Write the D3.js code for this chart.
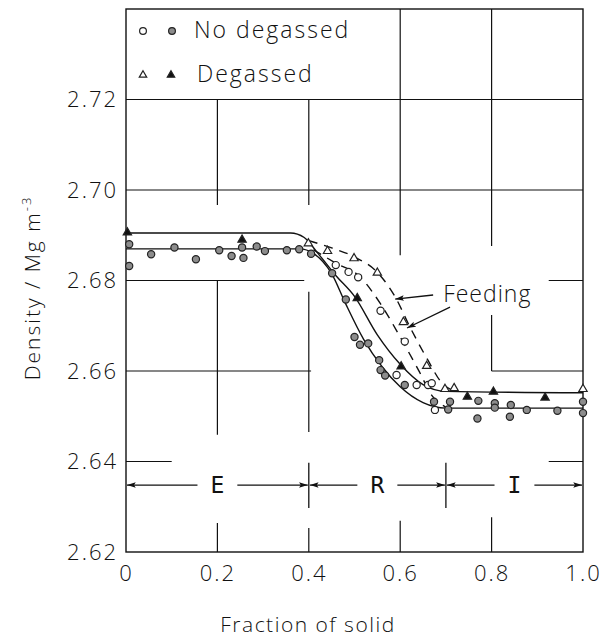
<!DOCTYPE html>
<html><head><meta charset="utf-8">
<script src="https://cdn.jsdelivr.net/npm/d3@7"></script>
<style>
body{margin:0;background:#fff;}
svg text{font-family:"Open Sans","DejaVu Sans",sans-serif;font-weight:300;fill:#111;}
</style></head><body>
<svg id="c" width="614" height="644"></svg>
<script>
// ---------------- data ----------------
const xTicks=[0,0.2,0.4,0.6,0.8,1.0];
const xTickLabels=["0","0.2","0.4","0.6","0.8","1.0"];
const yTicks=[2.62,2.64,2.66,2.68,2.70,2.72];
const yTickLabels=["2.62","2.64","2.66","2.68","2.70","2.72"];

// No degassed, filled circles
const ndFilledX=[0.007,0.007,0.055,0.106,0.153,0.204,0.231,0.254,0.257,0.286,0.304,0.352,0.379,0.405,0.451,0.481,0.500,0.512,0.530,0.554,0.557,0.567,0.610,0.674,0.705,0.709,0.771,0.769,0.807,0.807,0.842,0.840,0.877,0.944,1.0,1.0];
const ndFilledY=[2.6880,2.6832,2.6858,2.6873,2.6847,2.6867,2.6854,2.6873,2.6850,2.6875,2.6865,2.6867,2.6869,2.6859,2.6816,2.6758,2.6675,2.6658,2.6661,2.6624,2.6602,2.6590,2.6569,2.6532,2.6515,2.6532,2.6534,2.6495,2.6529,2.6519,2.6525,2.6499,2.6514,2.6512,2.6532,2.6507];
// No degassed, open circles (feeding)
const ndOpenX=[0.459,0.487,0.508,0.557,0.610,0.592,0.636,0.661,0.669,0.676];
const ndOpenY=[2.6834,2.6819,2.6807,2.6733,2.6665,2.6591,2.6569,2.6569,2.6573,2.6514];
// Degassed, filled triangles
const dgFilledX=[0.003,0.254,0.506,0.602,0.747,0.804,0.917];
const dgFilledY=[2.6906,2.6890,2.6761,2.6610,2.6543,2.6554,2.6541];
// Degassed, open triangles (feeding)
const dgOpenX=[0.399,0.441,0.499,0.550,0.607,0.658,0.698,0.718,1.0];
const dgOpenY=[2.6882,2.6865,2.6849,2.6817,2.6708,2.6611,2.6560,2.6562,2.6560];

// fitted curves
const curveNdX=[0,0.38,0.41,0.45,0.48,0.52,0.56,0.60,0.65,0.70,1.0];
const curveNdY=[2.6870,2.6870,2.6860,2.6815,2.6750,2.6670,2.6610,2.6565,2.6530,2.6518,2.6518];
const curveDgX=[0,0.36,0.39,0.42,0.46,0.50,0.55,0.60,0.65,0.70,1.0];
const curveDgY=[2.6905,2.6905,2.6895,2.6860,2.6810,2.6765,2.6680,2.6615,2.6570,2.6555,2.6552];
const feedNdX=[0.41,0.46,0.51,0.556,0.60,0.64,0.67,0.70];
const feedNdY=[2.6868,2.6838,2.6810,2.6750,2.6675,2.6602,2.6545,2.6520];
const feedDgX=[0.40,0.45,0.50,0.55,0.59,0.62,0.66,0.69,0.72];
const feedDgY=[2.6888,2.6872,2.6852,2.6818,2.6762,2.6700,2.6625,2.6575,2.6555];

// stages
const stageBounds=[0,0.4,0.7,1.0];
const stageLabels=["E","R","I"];
const stageLevel=2.6348;

// ---------------- chart ----------------
const svg=d3.select("#c");
const x=d3.scaleLinear().domain([0,1]).range([126,583]);
const y=d3.scaleLinear().domain([2.62,2.74]).range([552,9]);

const defs=svg.append("defs");
defs.append("marker").attr("id","ah").attr("viewBox","0 -4 10 8")
  .attr("refX",10).attr("refY",0).attr("markerWidth",9).attr("markerHeight",7)
  .attr("markerUnits","userSpaceOnUse").attr("orient","auto-start-reverse")
  .append("path").attr("d","M0,-3.2L10,0L0,3.2L2,0Z").attr("fill","#111");

// partial grid (gaps around data & annotations)
const vGrid=[
 {v:0.2,spans:[[2.62,2.6264],[2.6459,2.68],[2.6967,2.72]]},
 {v:0.4,spans:[[2.62,2.6253],[2.6465,2.6775],[2.6967,2.72]]},
 {v:0.6,spans:[[2.62,2.6269],[2.6856,2.74]]},
 {v:0.8,spans:[[2.62,2.6277],[2.66,2.6724],[2.6876,2.74]]}
];
const hGrid=[
 {v:2.64,spans:[[0,0.1],[0.925,1]]},
 {v:2.66,spans:[[0,0.405],[0.8,1]]},
 {v:2.68,spans:[[0,0.39],[0.925,1]]},
 {v:2.70,spans:[[0,1]]},
 {v:2.72,spans:[[0,1]]}
];
const g=svg.append("g").attr("stroke","#111").attr("stroke-width",1.2);
vGrid.forEach(d=>d.spans.forEach(s=>g.append("line")
  .attr("x1",x(d.v)).attr("x2",x(d.v)).attr("y1",y(s[0])).attr("y2",y(s[1]))));
hGrid.forEach(d=>d.spans.forEach(s=>g.append("line")
  .attr("x1",x(s[0])).attr("x2",x(s[1])).attr("y1",y(d.v)).attr("y2",y(d.v))));

// frame
svg.append("rect").attr("x",x(0)).attr("y",y(2.74)).attr("width",x(1)-x(0))
  .attr("height",y(2.62)-y(2.74)).attr("fill","none").attr("stroke","#111").attr("stroke-width",1.4);

// axes
const xa=svg.append("g").attr("transform",`translate(0,${y(2.62)})`)
  .call(d3.axisBottom(x).tickValues(xTicks).tickSize(0).tickPadding(13)
  .tickFormat((d,i)=>xTickLabels[i]));
xa.select(".domain").remove();
xa.selectAll("text").attr("font-size",22).attr("letter-spacing","2px").style("font-family",null).attr("fill","#111");
const ya=svg.append("g").attr("transform",`translate(${x(0)},0)`)
  .call(d3.axisLeft(y).tickValues(yTicks).tickSize(0).tickPadding(8)
  .tickFormat((d,i)=>yTickLabels[i]));
ya.select(".domain").remove();
ya.selectAll("text").attr("font-size",22).attr("letter-spacing","2px").style("font-family",null).attr("fill","#111");
svg.selectAll(".tick text").attr("font-family",null);
svg.selectAll("g[font-family]").attr("font-family",null).attr("font-size",null);

// axis titles
svg.append("text").attr("x",308).attr("y",632).attr("text-anchor","middle")
  .attr("font-size",21).attr("letter-spacing","1.5px").text("Fraction of solid");
const yt=svg.append("text").attr("transform","translate(40,288) rotate(-90)")
  .attr("text-anchor","middle").attr("font-size",21).attr("letter-spacing","2px");
yt.append("tspan").text("Density / Mg m");
yt.append("tspan").attr("dy",-9).attr("font-size",13).text("-3");

// curves
const line=d3.line().x(d=>x(d[0])).y(d=>y(d[1])).curve(d3.curveMonotoneX);
const zip=(a,b)=>a.map((v,i)=>[v,b[i]]);
const cg=svg.append("g").attr("fill","none").attr("stroke","#111").attr("stroke-width",1.4);
cg.append("path").attr("d",line(zip(curveNdX,curveNdY)));
cg.append("path").attr("d",line(zip(curveDgX,curveDgY)));
cg.append("path").attr("d",line(zip(feedNdX,feedNdY))).attr("stroke-dasharray","9,7");
cg.append("path").attr("d",line(zip(feedDgX,feedDgY))).attr("stroke-dasharray","9,7");

// markers
const pg=svg.append("g").attr("stroke","#222").attr("stroke-width",1.2);
pg.selectAll(".fc").data(zip(ndFilledX,ndFilledY)).join("circle")
  .attr("cx",d=>x(d[0])).attr("cy",d=>y(d[1])).attr("r",3.6).attr("fill","#8c8c8c");
pg.selectAll(".oc").data(zip(ndOpenX,ndOpenY)).join("circle")
  .attr("cx",d=>x(d[0])).attr("cy",d=>y(d[1])).attr("r",3.6).attr("fill","#fff");
const tri=d3.symbol(d3.symbolTriangle).size(30);
pg.selectAll(".ft").data(zip(dgFilledX,dgFilledY)).join("path")
  .attr("transform",d=>`translate(${x(d[0])},${y(d[1])})`).attr("d",tri).attr("fill","#111");
pg.selectAll(".ot").data(zip(dgOpenX,dgOpenY)).join("path")
  .attr("transform",d=>`translate(${x(d[0])},${y(d[1])})`).attr("d",tri).attr("fill","#fff");

// legend
const lg=svg.append("g");
lg.append("circle").attr("cx",143).attr("cy",31).attr("r",3.4).attr("fill","#fff").attr("stroke","#222").attr("stroke-width",1.2);
lg.append("circle").attr("cx",172).attr("cy",31).attr("r",3.4).attr("fill","#8c8c8c").attr("stroke","#222").attr("stroke-width",1.2);
lg.append("text").attr("x",194).attr("y",38).attr("font-size",23).attr("letter-spacing","2px").text("No degassed");
const ltri=d3.symbol(d3.symbolTriangle).size(24);
lg.append("path").attr("transform","translate(143,75)").attr("d",ltri).attr("fill","#fff").attr("stroke","#222").attr("stroke-width",1.2);
lg.append("path").attr("transform","translate(171,75)").attr("d",ltri).attr("fill","#111").attr("stroke","#222").attr("stroke-width",1.2);
lg.append("text").attr("x",197).attr("y",82).attr("font-size",23).attr("letter-spacing","2px").text("Degassed");

// Feeding annotation
svg.append("text").attr("x",x(0.694)).attr("y",y(2.6752)).attr("font-size",23).attr("letter-spacing","1px").text("Feeding");
const fa=[[[0.672,2.6768],[0.589,2.6759]],[[0.709,2.6741],[0.615,2.6695]]];
fa.forEach(a=>svg.append("line").attr("x1",x(a[0][0])).attr("y1",y(a[0][1]))
  .attr("x2",x(a[1][0])).attr("y2",y(a[1][1])).attr("stroke","#111").attr("stroke-width",1.3)
  .attr("marker-end","url(#ah)"));

// stages E / R / I
const sg=svg.append("g");
stageLabels.forEach((lab,i)=>{
  const a=stageBounds[i], b=stageBounds[i+1], m=(a+b)/2;
  const t=sg.append("text").attr("x",x(m)).attr("y",y(stageLevel)+8).attr("text-anchor","middle")
    .attr("font-size",23).style("font-family","DejaVu Sans Mono").style("font-weight","200").text(lab);
  const w=t.node().getBBox().width/2+13;
  sg.append("line").attr("x1",x(m)-w).attr("x2",x(a)+1).attr("y1",y(stageLevel)).attr("y2",y(stageLevel))
    .attr("stroke","#111").attr("stroke-width",1.3).attr("marker-end","url(#ah)");
  sg.append("line").attr("x1",x(m)+w).attr("x2",x(b)-1).attr("y1",y(stageLevel)).attr("y2",y(stageLevel))
    .attr("stroke","#111").attr("stroke-width",1.3).attr("marker-end","url(#ah)");
});
stageBounds.slice(1,-1).forEach(bd=>sg.append("line").attr("x1",x(bd)).attr("x2",x(bd))
  .attr("y1",y(2.6397)).attr("y2",y(2.6297)).attr("stroke","#111").attr("stroke-width",1.3));
</script></body></html>
